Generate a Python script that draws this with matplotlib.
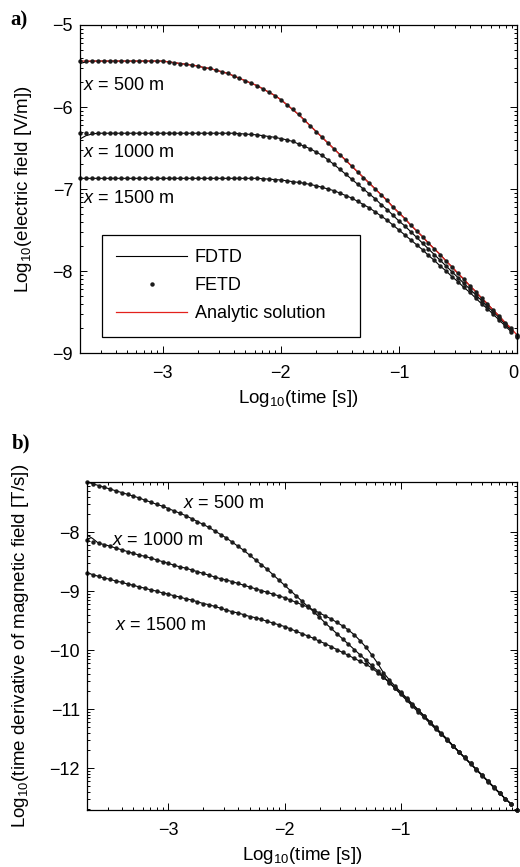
import numpy as np
import matplotlib.pyplot as plt
from matplotlib.lines import Line2D
from matplotlib.ticker import LogLocator, FixedLocator, FuncFormatter, NullFormatter

plt.rcParams['font.family'] = ['Liberation Sans', 'DejaVu Sans']
plt.rcParams['mathtext.fontset'] = 'custom'
plt.rcParams['mathtext.rm'] = 'Liberation Sans'
plt.rcParams['mathtext.it'] = 'Liberation Sans:italic'
plt.rcParams['mathtext.default'] = 'regular'

FS = 13

# output times, log10(t) from -3.7 to 0 in steps of 0.05
log_t = np.round(np.arange(-3.70, 0.001, 0.05), 2)

# log10 of electric field [V/m]
e_500 = [-5.44] * 15 + [
    -5.45, -5.46, -5.47, -5.48, -5.49, -5.50, -5.52, -5.53, -5.55, -5.57,
    -5.59, -5.62, -5.65, -5.68, -5.71, -5.74, -5.78, -5.82, -5.86, -5.91,
    -5.97, -6.03, -6.09, -6.16, -6.23, -6.30, -6.37, -6.44, -6.51, -6.58,
    -6.65, -6.72, -6.79, -6.86, -6.93, -7.00, -7.07, -7.14, -7.22, -7.29,
    -7.36, -7.44, -7.51, -7.58, -7.66, -7.73, -7.80, -7.88, -7.95, -8.03,
    -8.10, -8.18, -8.25, -8.33, -8.40, -8.48, -8.55, -8.63, -8.70, -8.78]
e_1000 = [-6.32] * 26 + [
    -6.32, -6.325, -6.33, -6.335, -6.34, -6.35, -6.36, -6.37, -6.385,
    -6.40, -6.42, -6.45, -6.48, -6.51, -6.55, -6.59, -6.645, -6.70, -6.76,
    -6.82, -6.88, -6.94, -7.00, -7.06, -7.12, -7.19, -7.25, -7.32, -7.39,
    -7.45, -7.52, -7.59, -7.66, -7.73, -7.80, -7.87, -7.94, -8.01, -8.08,
    -8.15, -8.22, -8.29, -8.36, -8.43, -8.50, -8.57, -8.65, -8.72, -8.79]
e_1500 = [-6.87] * 31 + [
    -6.875, -6.88, -6.885, -6.89,
    -6.90, -6.91, -6.92, -6.93, -6.945, -6.96, -6.98, -7.00, -7.02, -7.05,
    -7.08, -7.11, -7.15, -7.19, -7.23, -7.28, -7.33, -7.38, -7.44, -7.50,
    -7.56, -7.62, -7.68, -7.74, -7.81, -7.87, -7.94, -8.00, -8.07, -8.13,
    -8.20, -8.26, -8.33, -8.40, -8.46, -8.53, -8.60, -8.67, -8.74, -8.80]

# log10 of dB/dt [T/s]
dbdt_500 = [
    -7.15, -7.18, -7.21, -7.24, -7.27, -7.30, -7.33, -7.36, -7.39, -7.42,
    -7.46, -7.49, -7.53, -7.56, -7.60,
    -7.64, -7.68, -7.72, -7.77, -7.82, -7.87, -7.92, -7.98, -8.04, -8.10,
    -8.17, -8.24, -8.31, -8.39, -8.47, -8.55, -8.63, -8.72, -8.81, -8.90,
    -8.99, -9.08, -9.17, -9.26, -9.35, -9.44, -9.54, -9.63, -9.72, -9.81,
    -9.90, -9.99, -10.08, -10.17, -10.26, -10.35, -10.45, -10.54, -10.64, -10.73,
    -10.83, -10.93, -11.02, -11.12, -11.22, -11.32, -11.42, -11.52, -11.62, -11.72,
    -11.82, -11.92, -12.02, -12.12, -12.22, -12.32, -12.42, -12.52, -12.61, -12.71]
dbdt_1000 = [
    -8.13, -8.16, -8.19, -8.21, -8.24, -8.27, -8.30, -8.33, -8.36, -8.39,
    -8.41, -8.44, -8.47, -8.50, -8.53,
    -8.56, -8.59, -8.61, -8.64, -8.67, -8.70, -8.73, -8.76, -8.79, -8.81,
    -8.84, -8.87, -8.90, -8.93, -8.96, -8.99, -9.02, -9.05, -9.08, -9.11,
    -9.15, -9.19, -9.23, -9.27, -9.32, -9.37, -9.42, -9.47, -9.53, -9.59,
    -9.66, -9.74, -9.84, -9.95, -10.08, -10.22, -10.38, -10.50, -10.61, -10.71,
    -10.81, -10.91, -11.01, -11.11, -11.21, -11.31, -11.41, -11.51, -11.62, -11.72,
    -11.82, -11.92, -12.02, -12.12, -12.22, -12.32, -12.42, -12.52, -12.61, -12.71]
dbdt_1500 = [
    -8.69, -8.72, -8.75, -8.78, -8.80, -8.83, -8.85, -8.88, -8.90, -8.93,
    -8.95, -8.98, -9.00, -9.03, -9.05,
    -9.08, -9.10, -9.13, -9.15, -9.18, -9.21, -9.23, -9.26, -9.29, -9.32,
    -9.35, -9.37, -9.40, -9.43, -9.45, -9.48, -9.51, -9.54, -9.57, -9.60,
    -9.64, -9.68, -9.72, -9.76, -9.80, -9.85, -9.89, -9.94, -9.99, -10.04,
    -10.09, -10.14, -10.19, -10.24, -10.30, -10.38, -10.46, -10.55, -10.65, -10.75,
    -10.85, -10.95, -11.05, -11.14, -11.24, -11.34, -11.43, -11.53, -11.63, -11.73,
    -11.83, -11.93, -12.03, -12.13, -12.23, -12.33, -12.43, -12.52, -12.61, -12.71]

# FDTD differs from FETD only over the first few time steps
fdtd_start = {'e_500': [-5.47, -5.45], 'e_1000': [-6.39, -6.35, -6.33],
              'dbdt_1000': [-8.05, -8.11]}

t = 10.0 ** log_t
red = '#e3211c'
dot = '#1c1c1c'


def fdtd(name, vals):
    head = fdtd_start.get(name, [])
    y = head + vals[len(head):]
    # FDTD run stops one step before the last output time
    return t[:-1], 10.0 ** np.array(y[:-1])


def log_label(v, pos):
    k = np.log10(v)
    if abs(k) < 1e-9:
        return ''  # the "0" at the right edge is placed by hand
    return f'{k:.0f}'.replace('-', '\u2212')


def style_axes(ax, xt, yt):
    ax.set_xscale('log')
    ax.set_yscale('log')
    fmt = FuncFormatter(log_label)
    ax.xaxis.set_major_locator(FixedLocator([10.0 ** k for k in xt]))
    ax.yaxis.set_major_locator(FixedLocator([10.0 ** k for k in yt]))
    ax.xaxis.set_major_formatter(fmt)
    ax.yaxis.set_major_formatter(fmt)
    ax.xaxis.set_minor_locator(LogLocator(base=10, subs=np.arange(2, 10), numticks=20))
    ax.yaxis.set_minor_locator(LogLocator(base=10, subs=np.arange(2, 10), numticks=20))
    ax.xaxis.set_minor_formatter(NullFormatter())
    ax.yaxis.set_minor_formatter(NullFormatter())
    ax.tick_params(which='both', direction='in', top=True, right=True,
                   labelsize=FS, width=0.7)
    ax.tick_params(axis='x', which='major', pad=8.5)
    ax.tick_params(axis='y', which='major', pad=5)
    ax.tick_params(which='major', length=5)
    ax.tick_params(which='minor', length=2.5)
    for s in ax.spines.values():
        s.set_linewidth(0.9)


fig = plt.figure(figsize=(5.2, 8.67), dpi=100)
ax1 = fig.add_axes([80 / 520, 1 - 353 / 867, 437 / 520, 328 / 867])
ax2 = fig.add_axes([87 / 520, 1 - 810 / 867, 430 / 520, 328 / 867])

# a) electric field
for name, vals in [('e_500', e_500), ('e_1000', e_1000), ('e_1500', e_1500)]:
    ax1.plot(*fdtd(name, vals), color='k', lw=0.8)
ax1.plot(t, 10.0 ** np.array(e_500), color=red, lw=0.9)
for vals in [e_500, e_1000, e_1500]:
    ax1.plot(t, 10.0 ** np.array(vals), 'o', color=dot, ms=3.2, mec='none', clip_on=False)
ax1.set_xlim(10 ** -3.7, 1)
ax1.set_ylim(1e-9, 1e-5)
style_axes(ax1, [-3, -2, -1, 0], [-9, -8, -7, -6, -5])
ax1.annotate('0', xy=(1, 0), xycoords='axes fraction', xytext=(-2.5, -8.5),
             textcoords='offset points', ha='center', va='top', fontsize=FS)
ax1.set_xlabel(r'Log$_{10}$(time [s])', fontsize=13.5)
ax1.set_ylabel(r'Log$_{10}$(electric field [V/m])', fontsize=13.5)
ax1.xaxis.set_label_coords(0.5, -0.108)
ax1.yaxis.set_label_coords(-0.105, 0.5)

for s, y in [('500', 0.817), ('1000', 0.610), ('1500', 0.470)]:
    ax1.text(0.007, y, r'$\it{x}$ = ' + s + ' m', transform=ax1.transAxes,
             fontsize=FS, va='center', ha='left')

handles = [Line2D([], [], color='k', lw=0.8),
           Line2D([], [], ls='none', marker='o', color=dot, ms=3.2, mec='none'),
           Line2D([], [], color=red, lw=0.9)]
leg = ax1.legend(handles, ['FDTD', 'FETD', 'Analytic solution'], loc='lower left',
                 bbox_to_anchor=(0.050, 0.049, 0.591, 0.311), mode='expand',
                 fontsize=FS, frameon=True, fancybox=False, framealpha=1,
                 edgecolor='k', handlelength=3.9, handletextpad=0.45,
                 labelspacing=0.62, borderpad=0.8, numpoints=1, borderaxespad=0)
leg.get_frame().set_linewidth(0.9)

# b) time derivative of magnetic field
for name, vals in [('dbdt_500', dbdt_500), ('dbdt_1000', dbdt_1000), ('dbdt_1500', dbdt_1500)]:
    ax2.plot(*fdtd(name, vals), color='k', lw=0.8)
for vals in [dbdt_500, dbdt_1000, dbdt_1500]:
    ax2.plot(t, 10.0 ** np.array(vals), 'o', color=dot, ms=3.2, mec='none', clip_on=False)
ax2.set_xlim(10 ** -3.7, 1)
ax2.set_ylim(10 ** -12.71, 10 ** -7.15)
style_axes(ax2, [-3, -2, -1], [-12, -11, -10, -9, -8])
ax2.set_xlabel(r'Log$_{10}$(time [s])', fontsize=13.5)
ax2.set_ylabel(r'Log$_{10}$(time derivative of magnetic field [T/s])', fontsize=13.5)
ax2.xaxis.set_label_coords(0.5, -0.107)
ax2.yaxis.set_label_coords(-0.13, 0.5)

for s, x, y in [('500', 0.223, 0.933), ('1000', 0.058, 0.823), ('1500', 0.065, 0.561)]:
    ax2.text(x, y, r'$\it{x}$ = ' + s + ' m', transform=ax2.transAxes,
             fontsize=FS, va='center', ha='left')

fig.text(10 / 520, 1 - 20 / 867, 'a)', fontfamily='Liberation Serif', fontweight='bold',
         fontsize=15, va='center', ha='left')
fig.text(12 / 520, 1 - 443 / 867, 'b)', fontfamily='Liberation Serif', fontweight='bold',
         fontsize=15, va='center', ha='left')

fig.savefig('out.png', dpi=100)
